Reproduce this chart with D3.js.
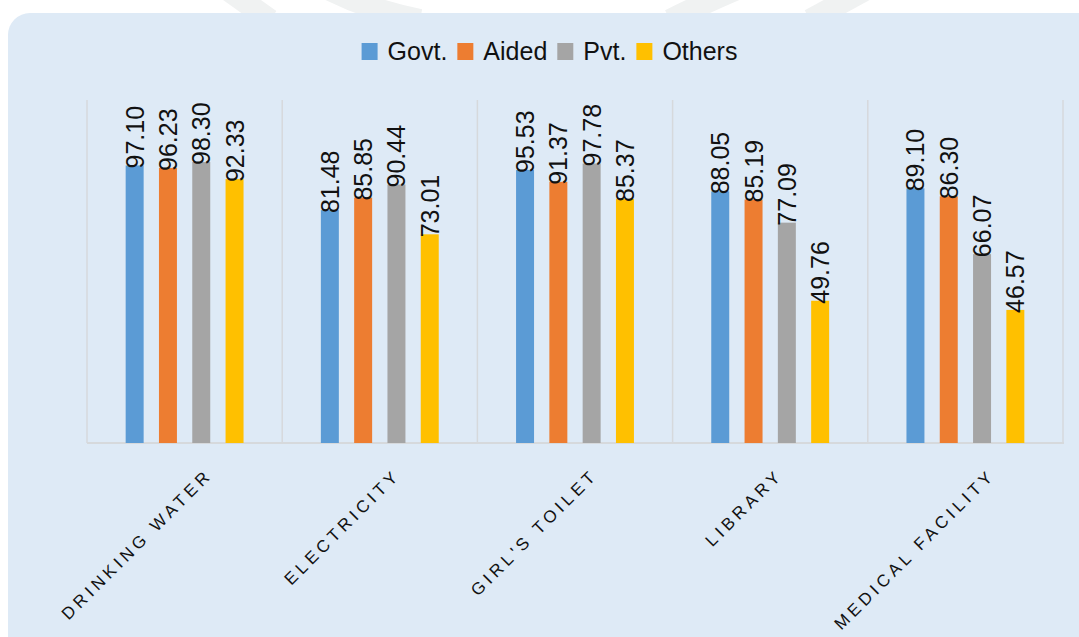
<!DOCTYPE html>
<meta charset="utf-8">
<style>
body { margin: 0; background: #fff; }
text { font-family: "Liberation Sans", Arial, sans-serif; }
</style>
<div id="viz"></div>
<script src="https://d3js.org/d3.v7.min.js"></script>
<script>
// chart values
var categories = ["DRINKING WATER", "ELECTRICITY", "GIRL'S TOILET", "LIBRARY", "MEDICAL FACILITY"];
var series = ["Govt.", "Aided", "Pvt.", "Others"];
var colors = ["#5B9BD5", "#ED7D31", "#A5A5A5", "#FFC000"];
var govt   = [97.10, 81.48, 95.53, 88.05, 89.10];
var aided  = [96.23, 85.85, 91.37, 85.19, 86.30];
var pvt    = [98.30, 90.44, 97.78, 77.09, 66.07];
var others = [92.33, 73.01, 85.37, 49.76, 46.57];
var values = [govt, aided, pvt, others];

var W = 1079, H = 637;
var svg = d3.select('#viz').append('svg')
    .attr('width', W).attr('height', H);

// faint watermark bands above the panel
var wm = svg.append('g').attr('stroke', '#f0f2f2').attr('stroke-width', 22).attr('fill', 'none');
wm.append('path').attr('d', 'M228,-10 L270,20');
wm.append('path').attr('d', 'M330,-10 Q370,10 420,20');
wm.append('path').attr('d', 'M670,20 Q700,5 735,-10');
wm.append('path').attr('d', 'M810,20 L865,-10');

// panel
svg.append('rect')
    .attr('x', 8).attr('y', 13)
    .attr('width', W + 20).attr('height', H + 20)
    .attr('rx', 22)
    .attr('fill', '#DEEAF6');

var x0 = d3.scaleBand().domain(categories).range([87, 1063]);
var step = 33.3;
var x1 = d3.scaleBand().domain(series)
    .range([0, step * (series.length - 0.46)])
    .paddingInner(0.46).paddingOuter(0);
var groupOffset = (x0.bandwidth() - (x1.range()[1])) / 2;
var y = d3.scaleLinear().domain([0, 120]).range([443, 100]);

// category separators
svg.append('g')
    .selectAll('line')
    .data(d3.range(categories.length + 1))
    .enter().append('line')
    .attr('x1', function(i) { return 87 + i * x0.step(); })
    .attr('x2', function(i) { return 87 + i * x0.step(); })
    .attr('y1', y(120)).attr('y2', y(0))
    .attr('stroke', '#d6d9dc').attr('stroke-width', 1.5);

// baseline
svg.append('line')
    .attr('x1', 87).attr('x2', 1064)
    .attr('y1', y(0)).attr('y2', y(0))
    .attr('stroke', '#d6d9dc').attr('stroke-width', 2);

// bars
var groups = svg.append('g').selectAll('g')
    .data(series)
    .enter().append('g');

groups.each(function(s, si) {
    var g = d3.select(this);
    var data = values[si].map(function(v, ci) { return {cat: categories[ci], v: v}; });
    g.selectAll('rect')
        .data(data)
        .enter().append('rect')
        .attr('x', function(d) { return x0(d.cat) + groupOffset + x1(s); })
        .attr('y', function(d) { return y(d.v); })
        .attr('width', x1.bandwidth())
        .attr('height', function(d) { return y(0) - y(d.v); })
        .attr('fill', colors[si]);
    g.selectAll('text')
        .data(data)
        .enter().append('text')
        .attr('transform', function(d) {
            var cx = x0(d.cat) + groupOffset + x1(s) + x1.bandwidth() / 2 + 9;
            return 'translate(' + cx + ',' + (y(d.v) + 3) + ') rotate(-90)';
        })
        .attr('font-size', 25)
        .attr('fill', '#111')
        .text(function(d) { return d.v.toFixed(2); });
});

// category labels, rotated
svg.append('g').selectAll('text')
    .data(categories)
    .enter().append('text')
    .attr('font-size', 17)
    .attr('letter-spacing', 4.1)
    .attr('fill', '#111')
    .attr('text-anchor', 'end')
    .text(function(d) { return d; })
    .attr('transform', function(d) {
        var len = this.getComputedTextLength();
        var cx = x0(d) + x0.bandwidth() / 2 + 0.145 * len - 1;
        return 'translate(' + cx + ',476) rotate(-45)';
    });

// legend
var legend = svg.append('g');
var items = legend.selectAll('g')
    .data(series)
    .enter().append('g');
items.append('rect')
    .attr('width', 16).attr('height', 17)
    .attr('y', 43)
    .attr('fill', function(d, i) { return colors[i]; });
items.append('text')
    .attr('x', 26).attr('y', 60)
    .attr('font-size', 25)
    .attr('fill', '#111')
    .text(function(d) { return d; });
var pos = 0;
items.each(function() {
    var w = 26 + d3.select(this).select('text').node().getComputedTextLength();
    d3.select(this).attr('transform', 'translate(' + pos + ',0)');
    pos += w + 10;
});
var total = pos - 10;
legend.attr('transform', 'translate(' + (549.5 - total / 2) + ',0)');
</script>
